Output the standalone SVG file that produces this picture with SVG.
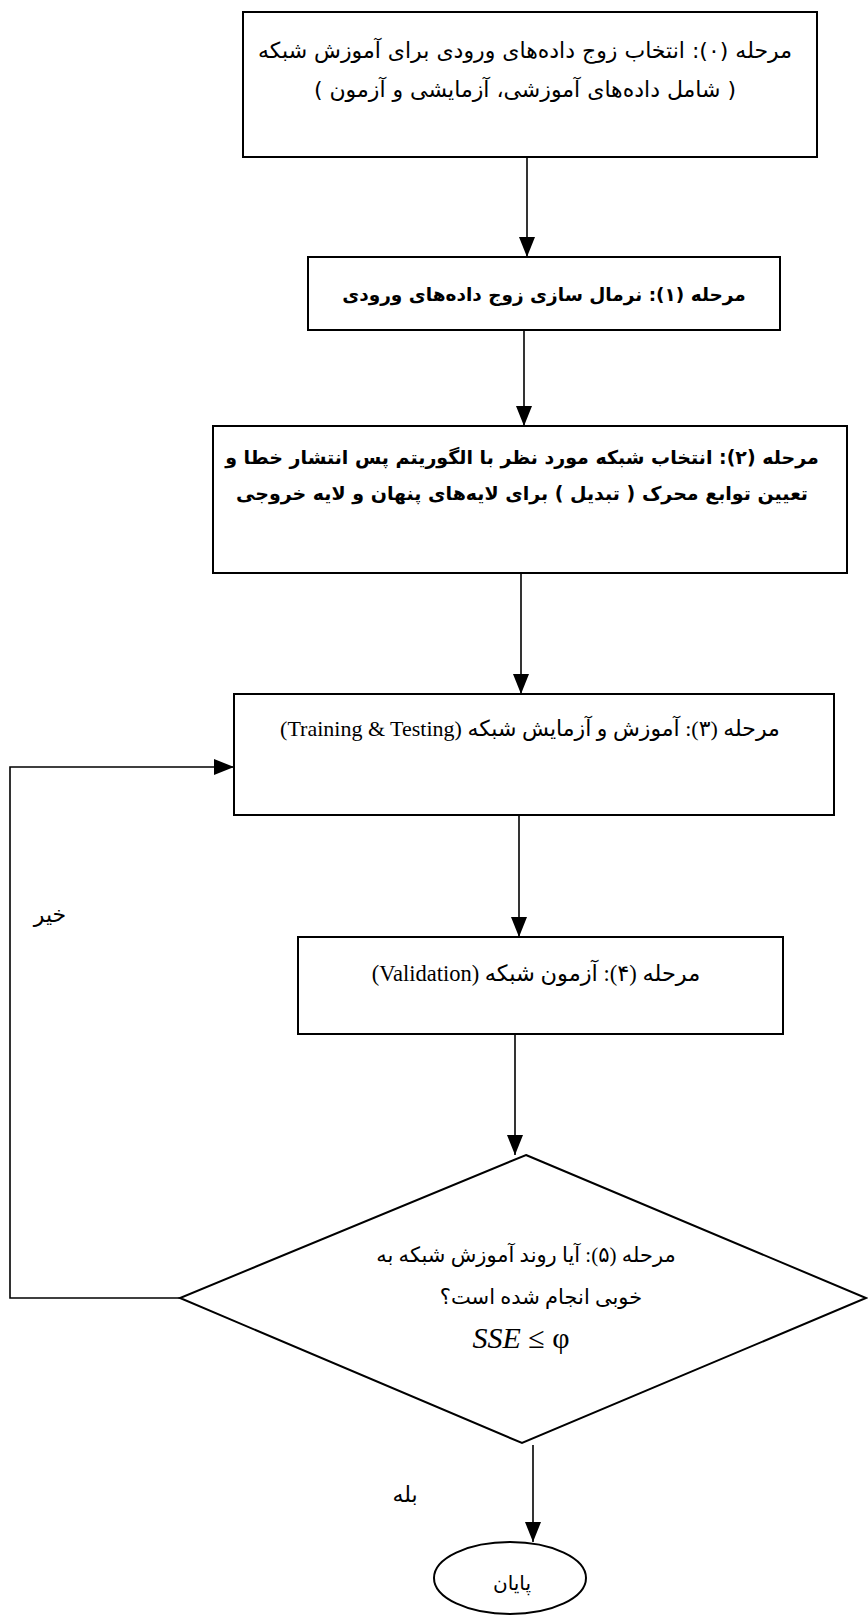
<svg xmlns="http://www.w3.org/2000/svg" width="868" height="1616" viewBox="0 0 868 1616">
<defs>
<marker id="arr" viewBox="0 0 20 16" refX="20" refY="8" markerWidth="20" markerHeight="16" markerUnits="userSpaceOnUse" orient="auto">
<path d="M0,0 L20,8 L0,16 Z" fill="#000"/>
</marker>
</defs>
<style>
.box{fill:#fff;stroke:#000;stroke-width:2}
.fa{font-family:"DejaVu Sans",sans-serif;font-size:19px;fill:#000;text-anchor:middle;direction:rtl}
.tn{font-family:"Liberation Serif","DejaVu Sans",serif}
.b{font-weight:bold}
.con{fill:none;stroke:#000;stroke-width:1.6}
.math{font-family:"Liberation Serif",serif;font-size:30px;fill:#000;text-anchor:middle}
</style>
<rect width="868" height="1616" fill="#fff"/>
<g id="connectors">
<line class="con" x1="527" y1="157" x2="527" y2="257" marker-end="url(#arr)"/>
<line class="con" x1="524" y1="330" x2="524" y2="426" marker-end="url(#arr)"/>
<line class="con" x1="521" y1="573" x2="521" y2="694" marker-end="url(#arr)"/>
<line class="con" x1="519" y1="815" x2="519" y2="937" marker-end="url(#arr)"/>
<line class="con" x1="515" y1="1034" x2="515" y2="1155" marker-end="url(#arr)"/>
<line class="con" x1="533" y1="1445" x2="533" y2="1542" marker-end="url(#arr)"/>
<polyline class="con" points="180,1298 10,1298 10,767 234,767" marker-end="url(#arr)"/>
<text class="fa" x="50" y="922" style="font-size:22px">خیر</text>
<text class="fa" x="405" y="1502" style="font-size:22px">بله</text>
</g>
<g id="step0">
<rect class="box" x="243" y="12" width="574" height="145"/>
<text class="fa" x="525" y="58" style="font-size:22px">مرحله (۰): انتخاب زوج داده‌های ورودی برای آموزش شبکه</text>
<text class="fa" x="525" y="97" style="font-size:22px">( شامل داده‌های آموزشی، آزمایشی و آزمون )</text>
</g>
<g id="step1">
<rect class="box" x="308" y="257" width="472" height="73"/>
<text class="fa b" x="544" y="301" style="font-size:18.5px">مرحله (۱): نرمال سازی زوج داده‌های ورودی</text>
</g>
<g id="step2">
<rect class="box" x="213" y="426" width="634" height="147"/>
<text class="fa b" x="522" y="464">مرحله (۲): انتخاب شبکه مورد نظر با الگوریتم پس انتشار خطا و</text>
<text class="fa b" x="522" y="500">تعیین توابع محرک ( تبدیل ) برای لایه‌های پنهان و لایه خروجی</text>
</g>
<g id="step3">
<rect class="box" x="234" y="694" width="600" height="121"/>
<text class="fa tn" x="530" y="736" style="font-size:22px">مرحله (۳): آموزش و آزمایش  شبکه (Training &amp; Testing)</text>
</g>
<g id="step4">
<rect class="box" x="298" y="937" width="485" height="97"/>
<text class="fa tn" x="536" y="981" style="font-size:22.5px">مرحله (۴): آزمون شبکه (Validation)</text>
</g>
<g id="step5">
<polygon class="box" points="526,1155 866,1298 522,1443 180,1298"/>
<text class="fa tn" x="526" y="1262" style="font-size:21px">مرحله (۵): آیا روند آموزش شبکه به</text>
<text class="fa tn" x="541" y="1304" style="font-size:21px">خوبی انجام شده است؟</text>
<text class="math" x="521" y="1348"><tspan font-style="italic">SSE</tspan> ≤ φ</text>
</g>
<g id="end">
<ellipse class="box" cx="510" cy="1578" rx="76" ry="36"/>
<text class="fa" x="512" y="1590" style="font-size:20px">پایان</text>
</g>
</svg>
